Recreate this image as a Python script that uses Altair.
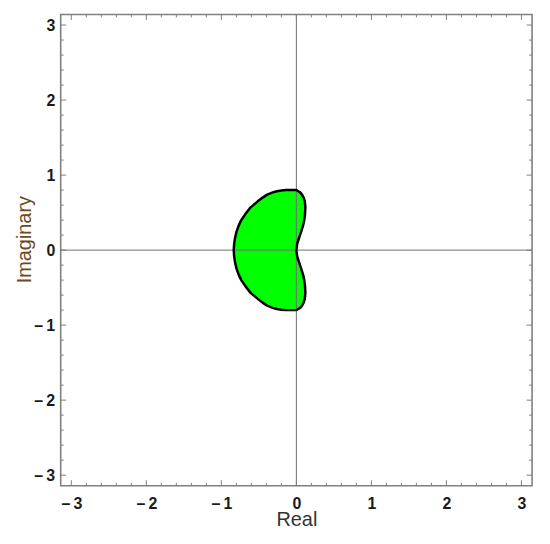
import altair as alt
import pandas as pd

# Boundary of the filled region (Im level, left Re, right Re)
im_vals = [-0.80, -0.795, -0.785, -0.77, -0.74, -0.70, -0.65, -0.57, -0.48, -0.40, -0.33, -0.25, -0.16, -0.08, 0.00,
           0.08, 0.16, 0.25, 0.33, 0.40, 0.48, 0.57, 0.65, 0.70, 0.74, 0.77, 0.785, 0.795, 0.80]
re_left = [-0.14, -0.20, -0.26, -0.315, -0.39, -0.45, -0.515, -0.61, -0.68, -0.735, -0.768, -0.797, -0.818, -0.83, -0.835,
           -0.83, -0.818, -0.797, -0.768, -0.735, -0.68, -0.61, -0.515, -0.45, -0.39, -0.315, -0.26, -0.20, -0.14]
re_right = [0.00, 0.01, 0.025, 0.05, 0.075, 0.097, 0.112, 0.12, 0.115, 0.105, 0.09, 0.065, 0.035, 0.01, 0.00,
            0.01, 0.035, 0.065, 0.09, 0.105, 0.115, 0.12, 0.112, 0.097, 0.075, 0.05, 0.025, 0.01, 0.00]

major_ticks = [-3, -2, -1, 0, 1, 2, 3]
minor_ticks = [-2.8, -2.6, -2.4, -2.2, -1.8, -1.6, -1.4, -1.2, -0.8, -0.6, -0.4, -0.2,
               0.2, 0.4, 0.6, 0.8, 1.2, 1.4, 1.6, 1.8, 2.2, 2.4, 2.6, 2.8]

W = 474
H = 474
FRAME = "#808080"
LIM = 3.1416

area_df = pd.DataFrame({"im": im_vals, "re_l": re_left, "re_r": re_right})

# outline: right edge bottom->top, left edge top->bottom, then close
o_re = list(re_right) + list(reversed(re_left)) + [re_right[0]]
o_im = list(im_vals) + list(reversed(im_vals)) + [im_vals[0]]
outline_df = pd.DataFrame({"re": o_re, "im": o_im, "k": list(range(len(o_re)))})

major_df = pd.DataFrame({"v": major_ticks})
minor_df = pd.DataFrame({"v": minor_ticks})
zero_df = pd.DataFrame({"v": [0]})

xs = alt.Scale(domain=[-LIM, LIM], nice=False, zero=False)
ys = alt.Scale(domain=[-LIM, LIM], nice=False, zero=False)

label_expr = "replace(datum.label, '\u2212', '\u2013\u2009')"

x_axis = alt.Axis(
    values=major_ticks, title="Real", ticks=False, domain=False, grid=False,
    labelFont="Liberation Sans", labelFontSize=16, labelFontWeight="bold", labelColor="#1a1a1a",
    labelPadding=10, labelFlush=False, labelOverlap=False, labelExpr=label_expr,
    titleFont="Liberation Sans", titleFontSize=20, titleFontWeight="normal",
    titleColor="#333333", titleX=W / 2, titleY=40, titleBaseline="alphabetic",
)
y_axis = alt.Axis(
    values=major_ticks, title="Imaginary", ticks=False, domain=False, grid=False,
    labelFont="Liberation Sans", labelFontSize=16, labelFontWeight="bold", labelColor="#1a1a1a",
    labelPadding=6, labelFlush=False, labelOverlap=False, labelExpr=label_expr,
    titleFont="Liberation Sans", titleFontSize=20, titleFontWeight="normal",
    titleColor="#6e4a22", titleX=-30, titleY=226, titleAngle=270,
    titleBaseline="alphabetic", titleAlign="center",
)

area = alt.Chart(area_df).mark_area(orient="horizontal", color="#00ff00", opacity=1).encode(
    y=alt.Y("im:Q", scale=ys, axis=y_axis),
    x=alt.X("re_l:Q", scale=xs, axis=x_axis),
    x2="re_r:Q",
)

vline = alt.Chart(zero_df).mark_rule(color="#707070", strokeWidth=1).encode(
    x=alt.X("v:Q", scale=xs, axis=x_axis), y=alt.value(0), y2=alt.value(H)
)
hline = alt.Chart(zero_df).mark_rule(color="#707070", strokeWidth=1).encode(
    y=alt.Y("v:Q", scale=ys, axis=y_axis), x=alt.value(0), x2=alt.value(W)
)

outline = alt.Chart(outline_df).mark_line(
    color="black", strokeWidth=2.5, strokeJoin="round", interpolate="linear"
).encode(
    x=alt.X("re:Q", scale=xs, axis=x_axis),
    y=alt.Y("im:Q", scale=ys, axis=y_axis),
    order="k:Q",
)


def xticks(df, length):
    b = alt.Chart(df).mark_rule(color=FRAME, strokeWidth=1).encode(
        x=alt.X("v:Q", scale=xs, axis=x_axis), y=alt.value(H), y2=alt.value(H - length)
    )
    t = alt.Chart(df).mark_rule(color=FRAME, strokeWidth=1).encode(
        x=alt.X("v:Q", scale=xs, axis=x_axis), y=alt.value(0), y2=alt.value(length)
    )
    return b + t


def yticks(df, length):
    l = alt.Chart(df).mark_rule(color=FRAME, strokeWidth=1).encode(
        y=alt.Y("v:Q", scale=ys, axis=y_axis), x=alt.value(0), x2=alt.value(length)
    )
    r = alt.Chart(df).mark_rule(color=FRAME, strokeWidth=1).encode(
        y=alt.Y("v:Q", scale=ys, axis=y_axis), x=alt.value(W), x2=alt.value(W - length)
    )
    return l + r


chart = alt.layer(
    area, vline, hline, outline,
    xticks(major_df, 5.5), xticks(minor_df, 3),
    yticks(major_df, 5.5), yticks(minor_df, 3),
).properties(
    width=W, height=H,
    autosize=alt.AutoSizeParams(type="none"),
    padding={"left": 53, "top": 5, "right": 10, "bottom": 45},
    background="white",
).configure_view(stroke=FRAME, strokeWidth=1.6)

chart.save("out.html", embed_options={"renderer": "svg", "actions": False})
